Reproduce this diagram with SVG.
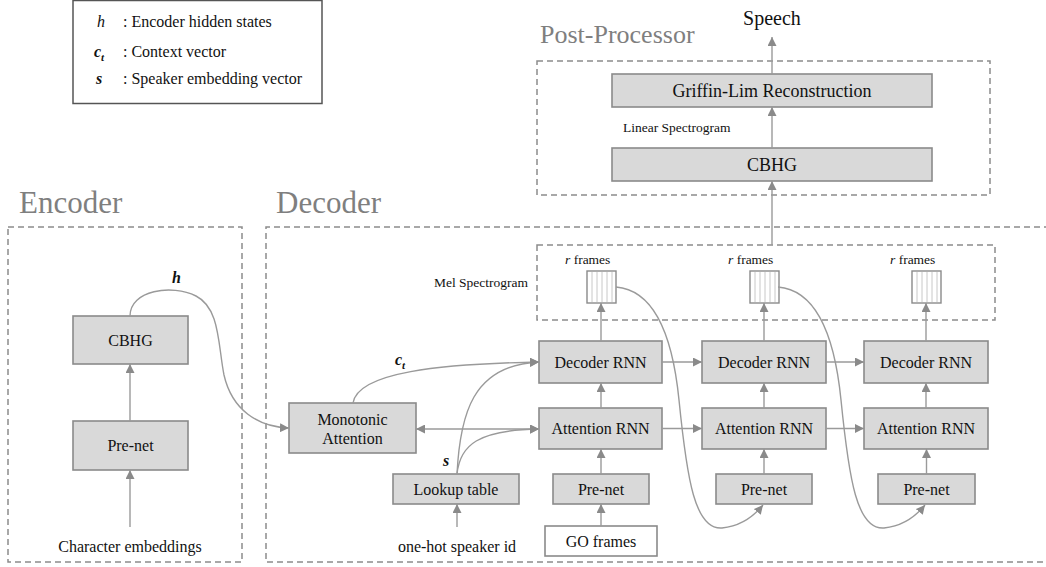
<svg xmlns="http://www.w3.org/2000/svg" width="1046" height="567" viewBox="0 0 1046 567" font-family="'Liberation Serif', 'DejaVu Serif', serif">
<style>
text{font-family:'Liberation Serif','DejaVu Serif',serif;fill:#111}
.box{fill:#d9d9d9;stroke:#8a8a8a;stroke-width:1.6}
.wbox{fill:#fff;stroke:#8a8a8a;stroke-width:1.6}
.dash{fill:none;stroke:#8c8c8c;stroke-width:1.5;stroke-dasharray:6,4}
.title{fill:#7f7f7f}
.c{stroke:#9a9a9a;stroke-width:1.4;fill:none}
.a{marker-end:url(#ah)}
.t16{font-size:16px;text-anchor:middle}
.t18{font-size:18px;text-anchor:middle}
.sm{font-size:13.5px}
.frame{fill:#fff;stroke:#8a8a8a;stroke-width:1.4}
.fl{stroke:#c8c8c8;stroke-width:1}
.bi{font-weight:bold;font-style:italic}
</style>
<defs>
<marker id="ah" viewBox="0 0 10 10" refX="10" refY="5" markerWidth="9" markerHeight="9" markerUnits="userSpaceOnUse" orient="auto-start-reverse">
<path d="M0,0 L10,5 L0,10 z" fill="#8a8a8a"/>
</marker>
<g id="fr">
<rect class="frame" x="0" y="0" width="29" height="32"/>
<line class="fl" x1="5" y1="1" x2="5" y2="31"/>
<line class="fl" x1="10" y1="1" x2="10" y2="31"/>
<line class="fl" x1="15" y1="1" x2="15" y2="31"/>
<line class="fl" x1="20" y1="1" x2="20" y2="31"/>
<line class="fl" x1="25" y1="1" x2="25" y2="31"/>
</g>
</defs>
<rect width="1046" height="567" fill="#fff"/>

<g id="legend">
<rect x="73" y="0.5" width="249" height="103" fill="#fff" stroke="#555" stroke-width="1.5"/>
<text x="97" y="27" font-size="16" font-style="italic">h</text>
<text x="123" y="27" font-size="16">: Encoder hidden states</text>
<text x="94" y="57" font-size="16" class="bi">c<tspan font-size="11" dy="4">t</tspan></text>
<text x="123" y="57" font-size="16">: Context vector</text>
<text x="96" y="84" font-size="16" class="bi">s</text>
<text x="123" y="84" font-size="16">: Speaker embedding vector</text>
</g>

<g id="titles">
<text class="title" x="540" y="43" font-size="26">Post-Processor</text>
<text class="title" x="19" y="213" font-size="31">Encoder</text>
<text class="title" x="276" y="213" font-size="31">Decoder</text>
<text x="772" y="25" font-size="20" text-anchor="middle">Speech</text>
</g>

<g id="regions">
<rect class="dash" x="537" y="61" width="453" height="134"/>
<rect class="dash" x="8" y="227" width="234" height="335"/>
<path class="dash" d="M1050,227 L266,227 L266,562 L1050,562"/>
<rect class="dash" x="537" y="245" width="458" height="75"/>
</g>

<g id="post">
<g id="griffin"><rect class="box" x="612" y="74" width="320" height="33"/><text class="t18" x="772" y="97">Griffin-Lim Reconstruction</text></g>
<g id="post-cbhg"><rect class="box" x="612" y="148" width="320" height="33"/><text class="t18" x="772" y="171">CBHG</text></g>
<text class="sm" x="623" y="132">Linear Spectrogram</text>
</g>

<g id="encoder">
<g id="enc-cbhg"><rect class="box" x="73" y="316" width="115" height="48"/><text class="t16" x="130.5" y="346">CBHG</text></g>
<g id="enc-prenet"><rect class="box" x="73" y="421" width="115" height="49"/><text class="t16" x="130.5" y="451">Pre-net</text></g>
<text class="t16" x="130" y="552" font-size="15">Character embeddings</text>
<text x="172" y="283" font-size="16" class="bi">h</text>
</g>

<g id="decoder">
<g id="mono"><rect class="box" x="289" y="403" width="127" height="50"/><text class="t16" x="352.5" y="425">Monotonic</text><text class="t16" x="352.5" y="444">Attention</text></g>
<g id="lookup"><rect class="box" x="393" y="474" width="126" height="30"/><text class="t16" x="456" y="495">Lookup table</text></g>
<text class="t16" x="457" y="552">one-hot speaker id</text>
<g id="go"><rect class="wbox" x="545" y="526" width="112" height="30"/><text class="t16" x="601" y="547">GO frames</text></g>

<g id="dec1"><rect class="box" x="539" y="341" width="123" height="42"/><text class="t16" x="600.5" y="368">Decoder RNN</text></g>
<g id="dec2"><rect class="box" x="702" y="341" width="124" height="42"/><text class="t16" x="764" y="368">Decoder RNN</text></g>
<g id="dec3"><rect class="box" x="864" y="341" width="124" height="42"/><text class="t16" x="926" y="368">Decoder RNN</text></g>

<g id="att1"><rect class="box" x="539" y="408" width="123" height="41"/><text class="t16" x="600.5" y="434">Attention RNN</text></g>
<g id="att2"><rect class="box" x="702" y="408" width="124" height="41"/><text class="t16" x="764" y="434">Attention RNN</text></g>
<g id="att3"><rect class="box" x="864" y="408" width="124" height="41"/><text class="t16" x="926" y="434">Attention RNN</text></g>

<g id="pre1"><rect class="box" x="553" y="474" width="96" height="30"/><text class="t16" x="601" y="495">Pre-net</text></g>
<g id="pre2"><rect class="box" x="716" y="474" width="96" height="30"/><text class="t16" x="764" y="495">Pre-net</text></g>
<g id="pre3"><rect class="box" x="878" y="474" width="97" height="30"/><text class="t16" x="926.5" y="495">Pre-net</text></g>

<text class="sm" x="528" y="287" text-anchor="end">Mel Spectrogram</text>
<g id="frame1"><use href="#fr" x="587" y="271"/><text class="sm" x="565" y="264" font-size="13"><tspan font-style="italic">r</tspan>  frames</text></g>
<g id="frame2"><use href="#fr" x="750" y="271"/><text class="sm" x="728" y="264" font-size="13"><tspan font-style="italic">r</tspan>  frames</text></g>
<g id="frame3"><use href="#fr" x="912" y="271"/><text class="sm" x="890" y="264" font-size="13"><tspan font-style="italic">r</tspan>  frames</text></g>

<text x="395" y="365" font-size="16" class="bi">c<tspan font-size="11" dy="4">t</tspan></text>
<text x="443" y="466" font-size="16" class="bi">s</text>
</g>

<g id="connectors">
<path class="c a" d="M772,74 L772,37"/>
<path class="c a" d="M772,148 L772,107"/>
<path class="c a" d="M772,245 L772,181"/>
<path class="c a" d="M130,527 L130,470"/>
<path class="c a" d="M130,421 L130,364"/>
<path class="c a" d="M130,316 C130,290 172,284 196,296 C220,308 218,345 224,375 C232,410 258,427 289,428"/>
<path class="c a" d="M457,527 L457,504"/>
<path class="c a" d="M601,526 L601,504"/>
<path class="c a" d="M601,474 L601,449"/>
<path class="c a" d="M764,474 L764,449"/>
<path class="c a" d="M926.5,474 L926.5,449"/>
<path class="c a" d="M601,408 L601,383"/>
<path class="c a" d="M764,408 L764,383"/>
<path class="c a" d="M926,408 L926,383"/>
<path class="c a" d="M601,341 L601,303"/>
<path class="c a" d="M764,341 L764,303"/>
<path class="c a" d="M926,341 L926,303"/>
<path class="c a" d="M662,362 L702,362"/>
<path class="c a" d="M826,362 L864,362"/>
<path class="c a" d="M662,428.5 L702,428.5"/>
<path class="c a" d="M826,428.5 L864,428.5"/>
<path class="c a" d="M416,429 L539,429" marker-start="url(#ah)"/>
<path class="c a" d="M353,403 C358,372 440,364 539,362"/>
<path class="c a" d="M457,474 C460,415 472,365 539,362"/>
<path class="c a" d="M457,474 C460,445 478,430 539,429"/>
<path class="c a" d="M616,287 C652,290 672,330 679,400 C687,480 695,530 722,528 C742,526 754,516 763,505"/>
<path class="c a" d="M778,287 C814,290 834,330 841,400 C849,480 857,530 884,528 C904,526 916,516 925,505"/>
</g>
</svg>
